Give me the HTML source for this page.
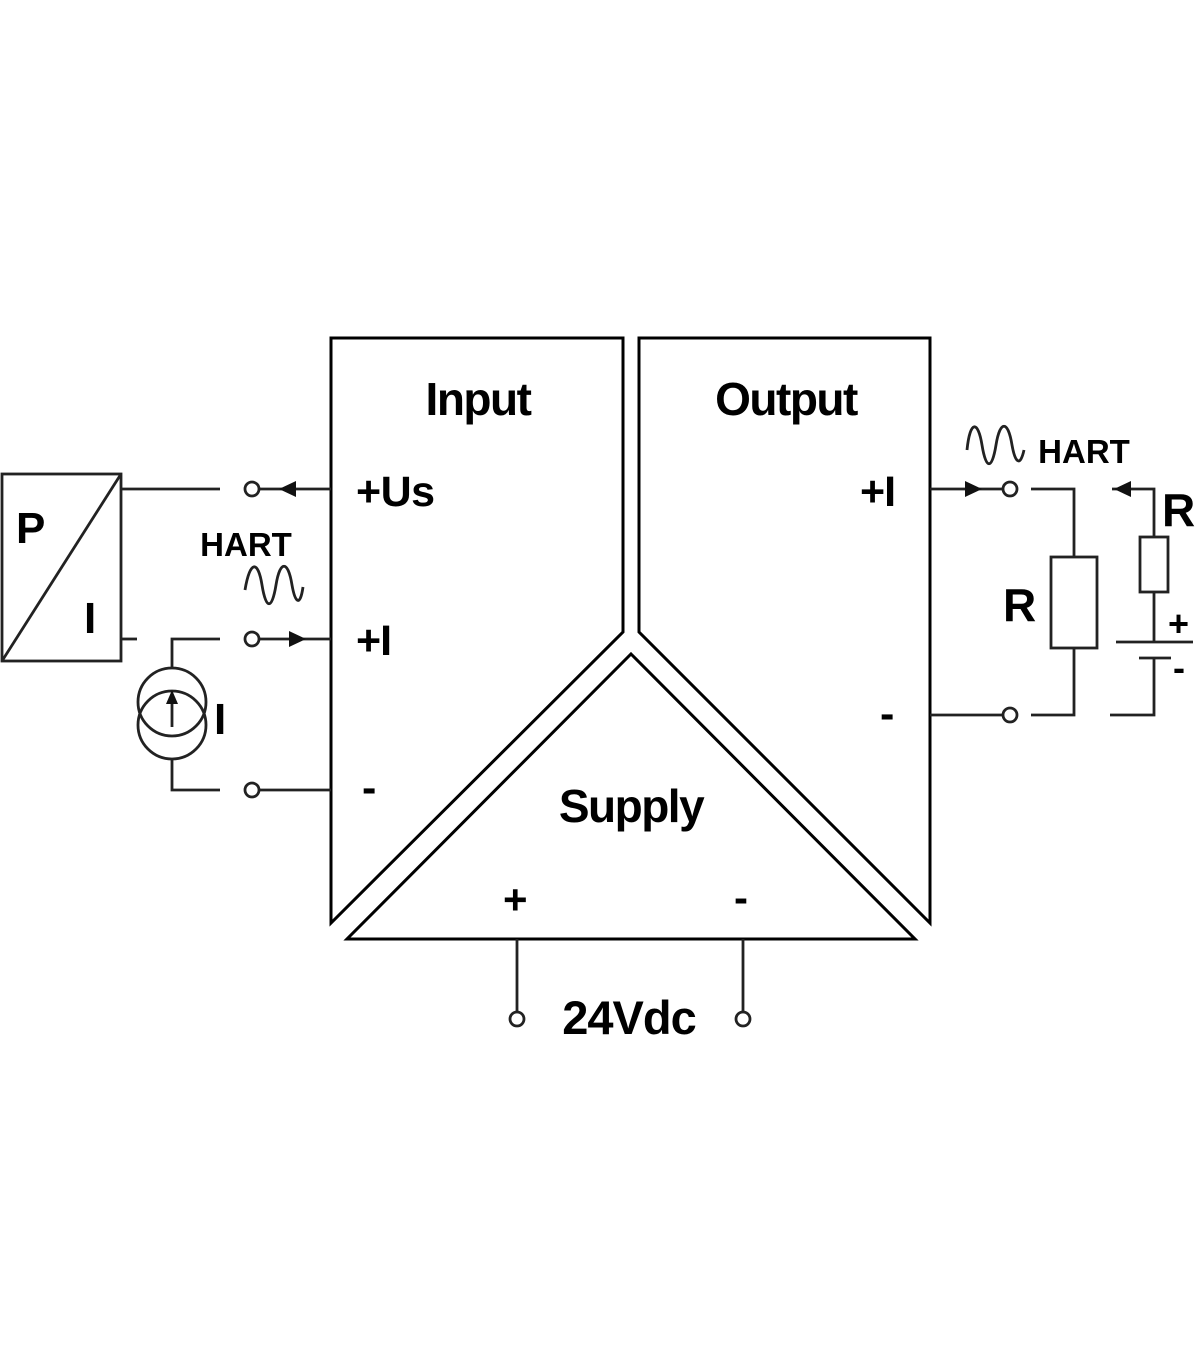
<!DOCTYPE html>
<html><head><meta charset="utf-8"><style>
html,body{margin:0;padding:0;background:#fff;}
svg{display:block;}
text{font-family:"Liberation Sans",Arial,sans-serif;font-weight:bold;fill:#000;}
</style></head><body>
<svg width="1200" height="1372" viewBox="0 0 1200 1372" xmlns="http://www.w3.org/2000/svg">
<g fill="none" stroke="#000" stroke-width="3">
<polygon points="331,338 623,338 623,632 331,923"/>
<polygon points="639,338 930,338 930,923 639,632"/>
<polygon points="631,654 915,939 347,939"/>
</g>
<g fill="none" stroke="#222" stroke-width="2.8">
<rect x="2" y="474" width="119" height="187"/>
<line x1="121" y1="474" x2="2" y2="661"/>
<line x1="121" y1="489" x2="220" y2="489"/>
<line x1="121" y1="639" x2="137" y2="639"/>
<line x1="259" y1="489" x2="331" y2="489"/>
<line x1="259" y1="639" x2="331" y2="639"/>
<line x1="259" y1="790" x2="331" y2="790"/>
<polyline points="220,639 172,639 172,667"/>
<polyline points="172,760 172,790 220,790"/>
<circle cx="172" cy="702" r="34"/>
<circle cx="172" cy="725" r="34"/>
<line x1="172" y1="727" x2="172" y2="697"/>
<circle cx="252" cy="489" r="7" fill="#fff"/>
<circle cx="252" cy="639" r="7" fill="#fff"/>
<circle cx="252" cy="790" r="7" fill="#fff"/>
<path d="M245 590 C250 560 258 560 262 585 C266 610 272 610 276 585 C280 560 288 560 292 585 C295 602 300 608 303 587"/>
<line x1="930" y1="489" x2="1003" y2="489"/>
<line x1="930" y1="715" x2="1003" y2="715"/>
<circle cx="1010" cy="489" r="7" fill="#fff"/>
<circle cx="1010" cy="715" r="7" fill="#fff"/>
<polyline points="1031,489 1074,489 1074,557"/>
<polyline points="1074,648 1074,715 1031,715"/>
<rect x="1051" y="557" width="46" height="91"/>
<polyline points="1112,489 1154,489 1154,537"/>
<rect x="1140" y="537" width="28" height="55"/>
<line x1="1154" y1="592" x2="1154" y2="642"/>
<line x1="1116" y1="642" x2="1193" y2="642"/>
<line x1="1139" y1="658" x2="1171" y2="658"/>
<polyline points="1154,658 1154,715 1110,715"/>
<path d="M967 450 C970 420 978 420 982 445 C986 470 992 470 996 445 C1000 420 1008 420 1012 445 C1015 462 1020 468 1024 450"/>
<line x1="517" y1="939" x2="517" y2="1012"/>
<line x1="743" y1="939" x2="743" y2="1012"/>
<circle cx="517" cy="1019" r="7" fill="#fff"/>
<circle cx="743" cy="1019" r="7" fill="#fff"/>
</g>
<g fill="#111">
<polygon points="279,489 296,481 296,497"/>
<polygon points="306,639 289,631 289,647"/>
<polygon points="982,489 965,481 965,497"/>
<polygon points="1114,489 1131,481 1131,497"/>
<polygon points="172,690 166,704 178,704"/>
</g>
<text x="478" y="415" font-size="46" text-anchor="middle" letter-spacing="-1.5">Input</text>
<text x="786" y="415" font-size="46" text-anchor="middle" letter-spacing="-1.5">Output</text>
<text x="631" y="822" font-size="46" text-anchor="middle" letter-spacing="-1.5">Supply</text>
<text x="356" y="506" font-size="43" letter-spacing="-0.5">+Us</text>
<text x="356" y="655" font-size="43" letter-spacing="-1">+I</text>
<text x="362" y="802" font-size="43">-</text>
<text x="860" y="506" font-size="43" letter-spacing="-1">+I</text>
<text x="880" y="728" font-size="43">-</text>
<text x="503" y="914" font-size="42">+</text>
<text x="734" y="912" font-size="42">-</text>
<text x="629" y="1034" font-size="47" text-anchor="middle" letter-spacing="-1">24Vdc</text>
<text x="246" y="556" font-size="33" text-anchor="middle" fill="#333">HART</text>
<text x="1084" y="463" font-size="33" text-anchor="middle" fill="#333">HART</text>
<text x="16" y="543" font-size="44" fill="#333">P</text>
<text x="84" y="633" font-size="44" fill="#333">I</text>
<text x="214" y="734" font-size="44">I</text>
<text x="1003" y="621" font-size="46">R</text>
<text x="1162" y="526" font-size="46">R</text>
<text x="1168" y="636" font-size="36" fill="#333">+</text>
<text x="1173" y="680" font-size="36" fill="#333">-</text>
</svg>
</body></html>
